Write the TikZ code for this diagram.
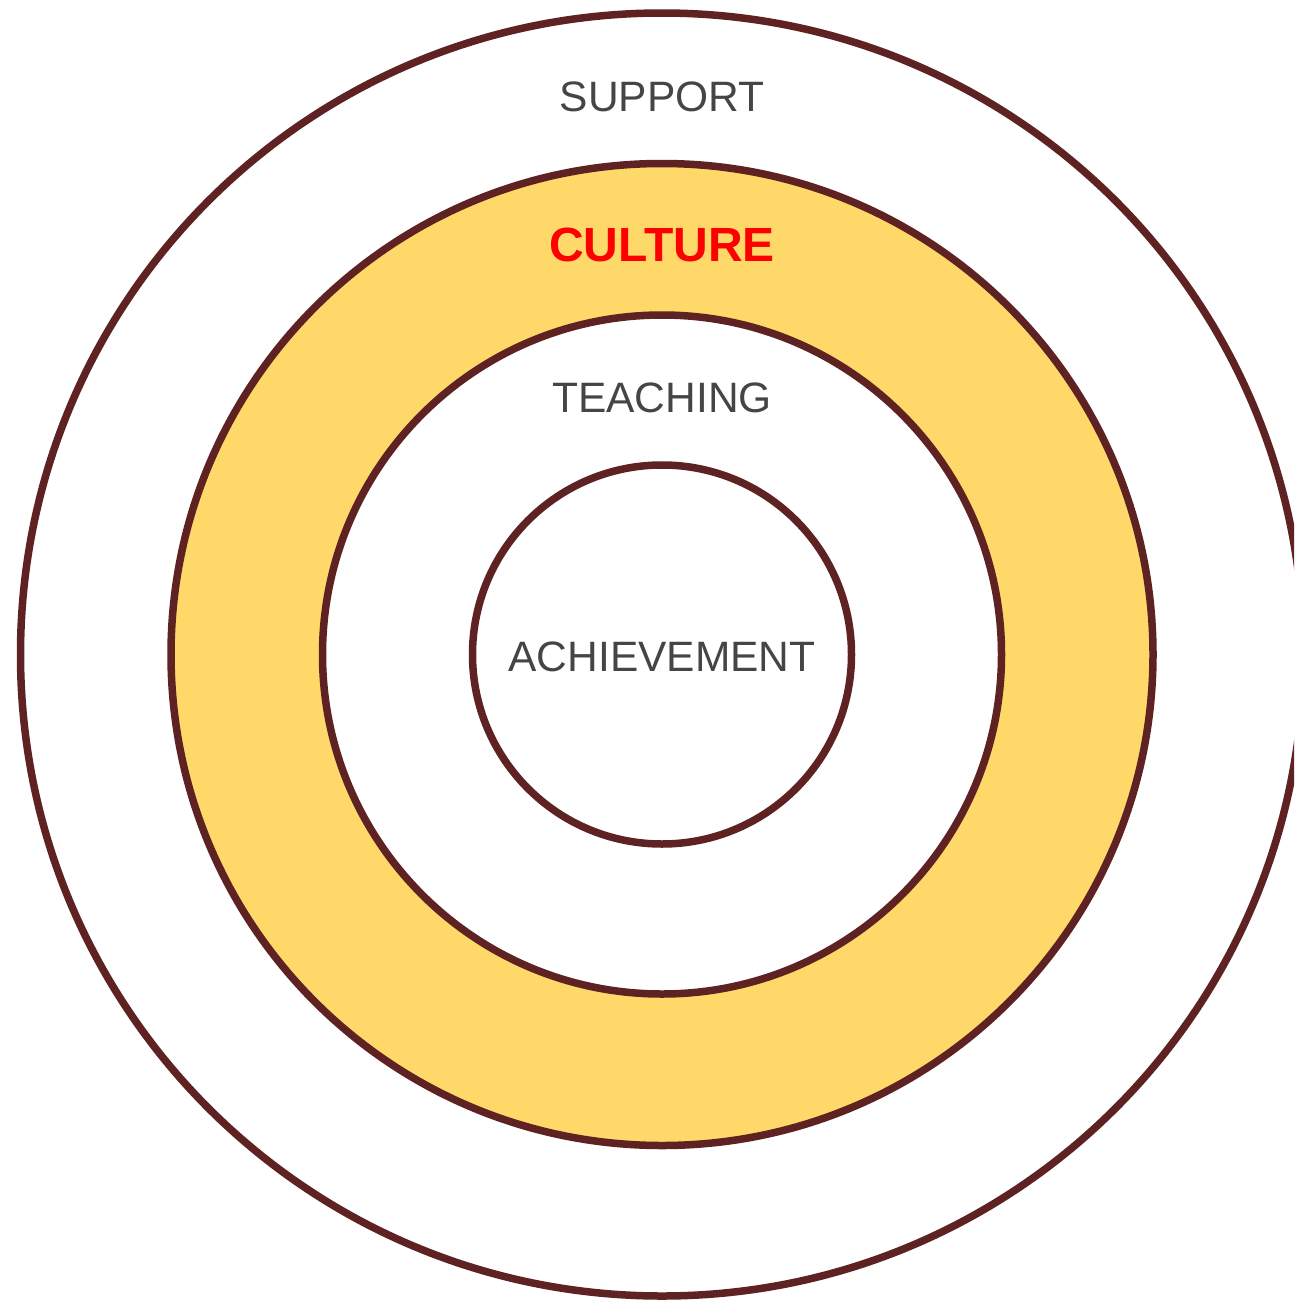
\documentclass[tikz,border=0pt]{standalone}
\usepackage{fontspec}
\setmainfont{Liberation Sans}
\definecolor{ringline}{HTML}{5E2222}
\definecolor{ringfill}{HTML}{FED96A}
\definecolor{labelgray}{HTML}{454545}
\begin{document}
\begin{tikzpicture}[x=1pt,y=-1pt,
  ring/.style={draw=ringline,line width=7.5pt,circle,inner sep=0pt},
  lbl/.style={text=labelgray,font=\fontsize{42.5}{50}\selectfont,inner sep=0pt,anchor=base}]
\useasboundingbox (0,0) rectangle (1294,1301);
\clip (0,0) rectangle (1294,1301);
\fill[white] (0,0) rectangle (1294,1301);
\coordinate (c) at (662,654.5);
\node[ring,fill=white,minimum size=1283pt] (support) at (c) {};
\node[ring,fill=ringfill,minimum size=982pt] (culture) at (c) {};
\node[ring,fill=white,minimum size=679pt] (teaching) at (c) {};
\node[ring,fill=white,minimum size=379pt] (achievement) at (c) {};
\node[lbl] (tsupport) at (662,111) {SUPPORT};
\node[lbl,text=red,font=\fontsize{48}{56}\selectfont\bfseries] (tculture) at (662,261) {CULTURE};
\node[lbl] (tteaching) at (662,412) {TEACHING};
\node[lbl] (tachievement) at (662,671) {ACHIEVEMENT};
\end{tikzpicture}
\end{document}
